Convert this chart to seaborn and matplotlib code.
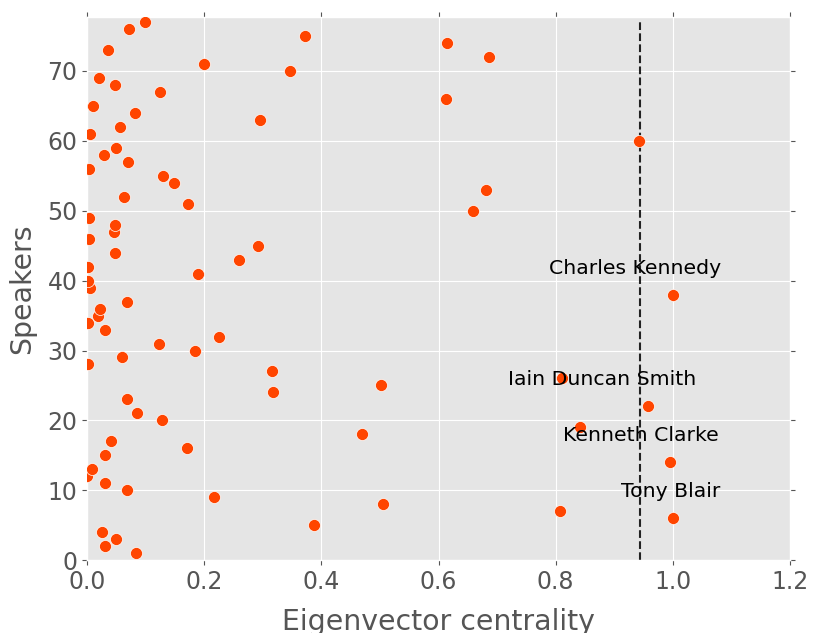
import matplotlib
matplotlib.use("Agg")
import matplotlib.pyplot as plt
import seaborn as sns
import pandas as pd

# Eigenvector centrality per speaker (speaker index 1..77)
speakers = list(range(1, 78))
centrality = [
    0.084, 0.030, 0.050, 0.026, 0.388, 1.000, 0.807, 0.506, 0.217, 0.068,
    0.030, 0.000, 0.008, 0.996, 0.030, 0.171, 0.040, 0.469, 0.842, 0.128,
    0.086, 0.958, 0.068, 0.318, 0.502, 0.810, 0.315, 0.002, 0.059, 0.184,
    0.122, 0.225, 0.030, 0.002, 0.019, 0.022, 0.068, 1.000, 0.005, 0.002,
    0.189, 0.002, 0.259, 0.047, 0.292, 0.003, 0.046, 0.048, 0.004, 0.659,
    0.172, 0.063, 0.681, 0.149, 0.130, 0.003, 0.069, 0.029, 0.049, 0.942,
    0.005, 0.056, 0.296, 0.081, 0.010, 0.613, 0.124, 0.048, 0.020, 0.346,
    0.199, 0.686, 0.036, 0.614, 0.372, 0.071, 0.099,
]

# Labelled speakers
label_names = ["Tony Blair", "Kenneth Clarke", "Iain Duncan Smith", "Charles Kennedy"]
label_speakers = [6, 14, 22, 38]

threshold = 0.944

df = pd.DataFrame({"centrality": centrality, "speaker": speakers})

plt.style.use("ggplot")
plt.rcParams["font.size"] = 17

fig = plt.figure(figsize=(8.14, 6.33), dpi=100)
ax = fig.add_axes([0.107, 0.115, 0.8635, 0.858])

sns.scatterplot(data=df, x="centrality", y="speaker", color="#FF4500",
                s=75, edgecolor="white", linewidth=0.5, ax=ax, zorder=3)

ax.vlines(threshold, 0, max(speakers), colors="#222222", linestyles="--",
          linewidth=1.5, zorder=2)

for name, sp in zip(label_names, label_speakers):
    x = centrality[sp - 1]
    ax.text(x + 0.082, sp + 3.8, name, ha="right", va="center",
            fontsize=14.7, color="black", zorder=4)

ax.set_xlim(0, 1.2)
ax.set_ylim(0, 77.7)
ax.set_xticks([0.0, 0.2, 0.4, 0.6, 0.8, 1.0, 1.2])
ax.set_yticks([0, 10, 20, 30, 40, 50, 60, 70])
ax.set_xlabel("Eigenvector centrality", fontsize=20.4, color="#555555", labelpad=10)
ax.set_ylabel("Speakers", fontsize=20.4, color="#555555", labelpad=8)
ax.tick_params(top=True, right=True, labelsize=17, colors="#555555")

fig.savefig("out.png", dpi=100)
